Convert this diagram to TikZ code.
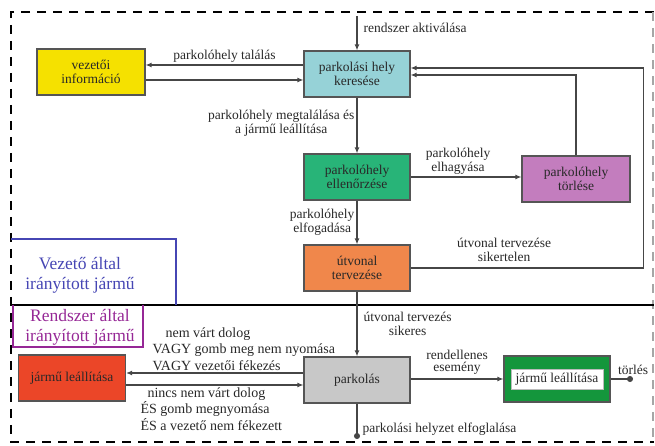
\documentclass[tikz,border=0pt]{standalone}
\usepackage{fontspec}
\setmainfont{Liberation Serif}
\usetikzlibrary{positioning,arrows.meta}

\definecolor{sarga}{RGB}{245,225,0}
\definecolor{cian}{RGB}{150,210,215}
\definecolor{zold}{RGB}{40,180,120}
\definecolor{lilas}{RGB}{195,125,190}
\definecolor{narancs}{RGB}{240,135,75}
\definecolor{szurke}{RGB}{200,200,200}
\definecolor{piros}{RGB}{235,70,40}
\definecolor{sotetzold}{RGB}{20,150,60}
\definecolor{keret}{RGB}{85,85,85}
\definecolor{vonalszin}{RGB}{70,70,70}
\definecolor{szoveg}{RGB}{40,40,40}
\definecolor{kek}{RGB}{70,70,180}
\definecolor{lila}{RGB}{150,40,150}

\begin{document}
\begin{tikzpicture}[x=1pt, y=1pt, node distance=100pt,
  doboz/.style={draw=keret, line width=1.1pt, minimum width=106pt, minimum height=46pt, inner sep=1pt, text centered, align=center, text=szoveg, font=\fontsize{13.5}{14}\selectfont},
  felirat/.style={align=center, text=szoveg, inner sep=2pt, font=\fontsize{13.5}{14}\selectfont},
  sorok/.style={align=left, text=szoveg, inner sep=2pt, font=\fontsize{14}{16.5}\selectfont},
  terulet/.style={align=center, font=\fontsize{17.5}{20}\selectfont},
  nyil/.style={draw=vonalszin, line width=1.2pt, -{Latex[length=6pt,width=5pt]}},
  pont/.style={draw=vonalszin, line width=1.2pt, -{Circle[length=6pt]}}]

\useasboundingbox (0,0) rectangle (655,446);

  % Frames
  \draw[line width=2.2pt, dash pattern=on 9pt off 7pt] (654,434) -- (11,434) -- (11,4) -- (654,4);
  \draw[black!35, line width=1.5pt, dash pattern=on 9pt off 7pt] (653,434) -- (653,4);
  \draw[line width=2pt] (11,141) -- (654,141);
  \draw[kek, line width=1.5pt] (11,207) -| (176,141);
  \draw[lila, line width=1.5pt] (13,141) |- (143,99) -- (143,141);
  \node (vezeto) [terulet, text=kek] at (80,171) {Vezető által\\irányított jármű};
  \node (rendszer) [terulet, text=lila] at (80,119) {Rendszer által\\irányított jármű};

  % Nodes
  \node (kereses) [doboz, fill=cian] at (357,372) {parkolási hely\\keresése};
  \node (informacio) [doboz, fill=sarga, minimum width=108pt, node distance=266pt, left of=kereses, yshift=2pt] {vezetői\\információ};
  \node (ellenorzes) [doboz, fill=zold, node distance=103pt, below of=kereses] {parkolóhely\\ellenőrzése};
  \node (torles) [doboz, fill=lilas, minimum width=108pt, node distance=219pt, right of=ellenorzes, yshift=-2pt] {parkolóhely\\törlése};
  \node (utvonal) [doboz, fill=narancs, node distance=91pt, below of=ellenorzes] {útvonal\\tervezése};
  \node (parkolas) [doboz, fill=szurke, node distance=112pt, below of=utvonal] {parkolás};
  \node (megallas) [doboz, fill=piros, minimum width=107pt, node distance=285pt, left of=parkolas, yshift=2pt] {jármű leállítása};
  \node (leallitas) [doboz, fill=sotetzold, node distance=200pt, right of=parkolas, yshift=1pt] {};
  \node (leallitasfelirat) [doboz, fill=white, draw=keret!40, line width=0.5pt, minimum width=92pt, minimum height=20pt] at (leallitas) {jármű leállítása};

  % Free ends
  \coordinate[node distance=58pt, above of=kereses] (aktivalas);
  \coordinate[node distance=76pt, right of=leallitas] (torlesvege);
  \coordinate[node distance=59pt, below of=parkolas] (helyzetvege);

  % Arrows
  \draw[nyil] (aktivalas) -- node[felirat, right, pos=0.35, xshift=4pt] (l1) {rendszer aktiválása} (kereses);
  \draw[nyil] ([yshift=9pt]kereses.west) -- node[felirat, above] (l2) {parkolóhely találás} ([yshift=9pt]kereses.west -| informacio.east);
  \draw[nyil] ([yshift=-6pt]kereses.west -| informacio.east) -- ([yshift=-6pt]kereses.west);
  \draw[nyil] (kereses) -- node[felirat, left, yshift=2pt] (l3) {parkolóhely megtalálása és\\a jármű leállítása} (ellenorzes);
  \draw[nyil] (ellenorzes.east) -- node[felirat, above, xshift=-8pt] (l4) {parkolóhely\\elhagyása} (ellenorzes.east -| torles.west);
  \draw[nyil] (torles.north) |- ([yshift=-1pt]kereses.east);
  \draw[nyil] (ellenorzes) -- node[felirat, left] (l5) {parkolóhely\\elfogadása} (utvonal);
  \draw[nyil] (utvonal.east) -- node[felirat, above, xshift=-23pt, yshift=4pt] (l6) {útvonal tervezése\\sikertelen} ++(233pt,0) |- ([yshift=6pt]kereses.east);

  % Second part
  \draw[nyil] (utvonal) -- node[felirat, right, xshift=4pt] (l7) {útvonal tervezés\\sikeres} (parkolas);
  \draw[nyil] ([yshift=7pt]parkolas.west) -- node[sorok, anchor=south west, pos=0.865] (l8) {\hspace*{13pt}nem várt dolog\\VAGY gomb meg nem nyomása\\VAGY vezetői fékezés} ([yshift=7pt]parkolas.west -| megallas.east);
  \draw[nyil] ([yshift=-5pt]parkolas.west -| megallas.east) -- node[sorok, anchor=north west, pos=0.067] (l9) {\hspace*{7pt}nincs nem várt dolog\\ÉS gomb megnyomása\\ÉS a vezető nem fékezett} ([yshift=-5pt]parkolas.west);
  \draw[nyil] (parkolas.east |- leallitas.west) -- node[felirat, above, yshift=2pt, font=\fontsize{13.5}{12}\selectfont] (l10) {rendellenes\\esemény} (leallitas.west);
  \draw[pont] (leallitas) -- node[felirat, above, pos=1, yshift=2pt] (l11) {törlés} (torlesvege);
  \draw[pont] (parkolas) -- node[felirat, right, pos=0.72, xshift=3pt] (l12) {parkolási helyzet elfoglalása} (helyzetvege);

\end{tikzpicture}
\end{document}
